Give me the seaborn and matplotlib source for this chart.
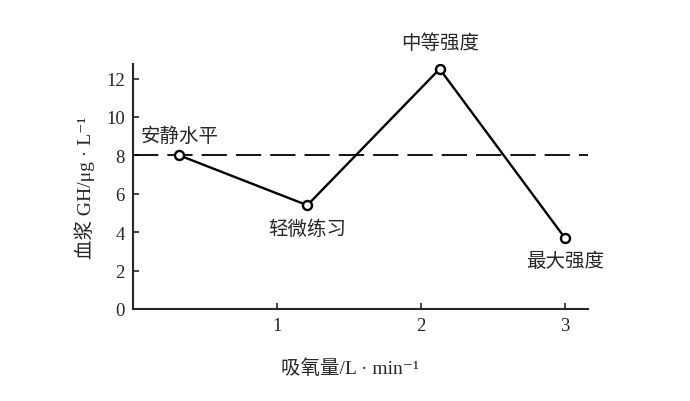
import matplotlib
matplotlib.use('Agg')
import matplotlib.pyplot as plt
import seaborn as sns
import pandas as pd

# values
oxygen_uptake = [0.32, 1.21, 2.13, 3.0]
gh_level = [8.0, 5.4, 12.5, 3.7]
stage_labels = ['安静水平', '轻微练习', '中等强度', '最大强度']
label_offsets = [14, -17, 19, -16]   # points, vertical (up is positive)
resting_level = 8.0

y_ticks = [0, 2, 4, 6, 8, 10, 12]
x_ticks = [1, 2, 3]

sns.set_style('ticks')
plt.rcParams['font.family'] = ['Liberation Serif', 'Noto Sans CJK SC', 'DejaVu Sans']
cjk = ['Noto Sans CJK SC', 'DejaVu Sans']

df = pd.DataFrame({'x': oxygen_uptake, 'y': gh_level})

fig = plt.figure(figsize=(6.9, 4.02), dpi=100)
ax = fig.add_axes([0.193, 0.229, 0.659, 0.609])

ax.axhline(resting_level, color='black', lw=1.3, dashes=(14, 5), zorder=1)
sns.lineplot(data=df, x='x', y='y', ax=ax, color='black', lw=1.7,
             marker='o', markersize=6.5, markerfacecolor='white',
             markeredgecolor='black', markeredgewidth=1.7, zorder=3)

for xv, yv, txt, dy in zip(oxygen_uptake, gh_level, stage_labels, label_offsets):
    ax.annotate(txt, (xv, yv), xytext=(0, dy), textcoords='offset points',
                ha='center', va='center', fontsize=14, family=cjk)

ax.set_xlim(0, 3.16)
ax.set_ylim(0, 12.75)
ax.set_xticks(x_ticks)
ax.set_yticks(y_ticks)
ax.tick_params(direction='in', length=4, width=1.2, labelsize=13.5, pad=6)
for s in ['top', 'right']:
    ax.spines[s].set_visible(False)
for s in ['left', 'bottom']:
    ax.spines[s].set_linewidth(1.5)

ax.set_xlabel('吸氧量/L · min⁻¹', fontsize=14)
ax.set_ylabel('血浆 GH/μg · L⁻¹', fontsize=14)
ax.xaxis.set_label_coords(0.477, -0.2)
ax.yaxis.set_label_coords(-0.085, 0.5)

fig.savefig('out.png', dpi=100)
